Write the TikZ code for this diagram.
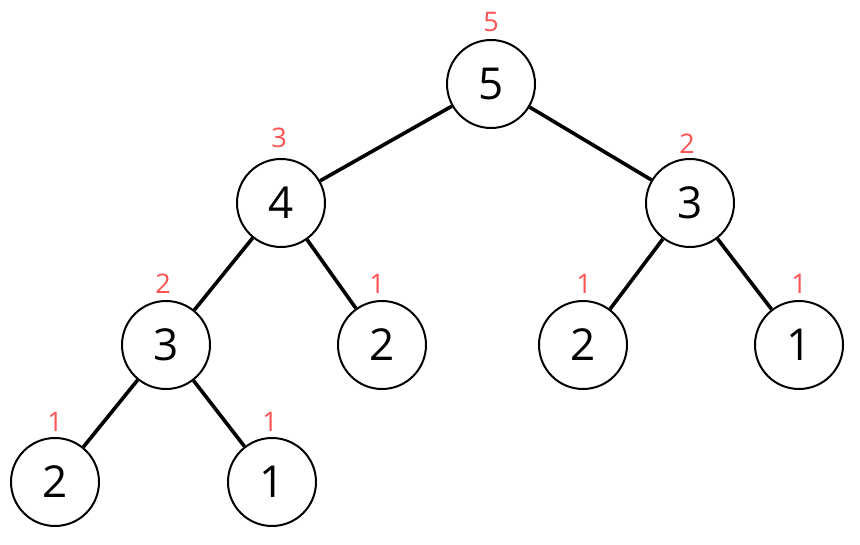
\documentclass[tikz,border=0pt]{standalone}
\usepackage{fontspec}
\setmainfont{Open Sans}
\definecolor{lbl}{RGB}{255,82,82}
\tikzset{
  tnode/.style={circle, draw=black, line width=2pt, minimum size=88pt, inner sep=0pt, font=\fontsize{44}{44}\selectfont},
  hlabel/.style={text=lbl, font=\fontsize{27}{27}\selectfont, inner sep=0pt},
  tedge/.style={line width=3.6pt, black}
}
\begin{document}
\begin{tikzpicture}[x=1pt,y=-1pt]
\useasboundingbox (0,0) rectangle (860,545);
\node[tnode] (r) at (491,84) {5};
\node[tnode] (a) at (281,203) {4};
\node[tnode] (b) at (690,203) {3};
\node[tnode] (c) at (166,345) {3};
\node[tnode] (d) at (382,345) {2};
\node[tnode] (e) at (583,345) {2};
\node[tnode] (f) at (799,345) {1};
\node[tnode] (g) at (55,482) {2};
\node[tnode] (h) at (272,482) {1};
\draw[tedge] (r) -- (a);
\draw[tedge] (r) -- (b);
\draw[tedge] (a) -- (c);
\draw[tedge] (a) -- (d);
\draw[tedge] (b) -- (e);
\draw[tedge] (b) -- (f);
\draw[tedge] (c) -- (g);
\draw[tedge] (c) -- (h);
\node[hlabel] (lr) at (491,22) {5};
\node[hlabel] (la) at (279,138) {3};
\node[hlabel] (lb) at (687,144) {2};
\node[hlabel] (lc) at (163,284) {2};
\node[hlabel] (ld) at (377,284) {1};
\node[hlabel] (le) at (584,284) {1};
\node[hlabel] (lf) at (799,284) {1};
\node[hlabel] (lg) at (55,422) {1};
\node[hlabel] (lh) at (270,422) {1};
\end{tikzpicture}
\end{document}
